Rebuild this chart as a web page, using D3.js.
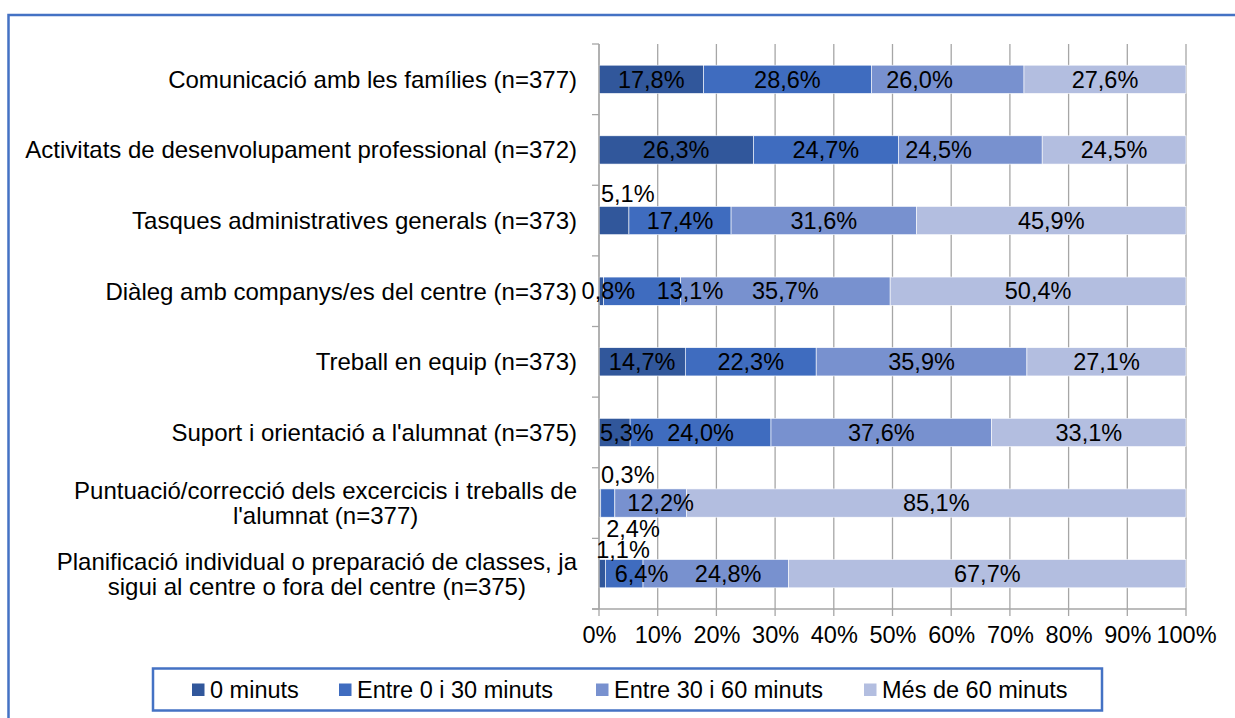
<!DOCTYPE html>
<html>
<head>
<meta charset="utf-8">
<script src="https://cdn.jsdelivr.net/npm/d3@7"></script>
<style>
  html, body { margin: 0; padding: 0; background: #fff; }
  svg { display: block; font-family: "Liberation Sans", Arial, sans-serif; }
</style>
</head>
<body>
<svg id="chart" width="1235" height="718"></svg>
<script>
// ---------------- DATA ----------------
const categories = [
  "Comunicació amb les famílies (n=377)",
  "Activitats de desenvolupament professional (n=372)",
  "Tasques administratives generals (n=373)",
  "Diàleg amb companys/es del centre (n=373)",
  "Treball en equip (n=373)",
  "Suport i orientació a l'alumnat (n=375)",
  "Puntuació/correcció dels excercicis i treballs de l'alumnat (n=377)",
  "Planificació individual o preparació de classes, ja sigui al centre o fora del centre (n=375)"
];
const categoryLines = [
  ["Comunicació amb les famílies (n=377)"],
  ["Activitats de desenvolupament professional (n=372)"],
  ["Tasques administratives generals (n=373)"],
  ["Diàleg amb companys/es del centre (n=373)"],
  ["Treball en equip (n=373)"],
  ["Suport i orientació a l'alumnat (n=375)"],
  ["Puntuació/correcció dels excercicis i treballs de", "l'alumnat (n=377)"],
  ["Planificació individual o preparació de classes, ja", "sigui al centre o fora del centre (n=375)"]
];
const seriesNames = ["0 minuts", "Entre 0 i 30 minuts", "Entre 30 i 60 minuts", "Més de 60 minuts"];
const zeroMin      = [17.8, 26.3, 5.1, 0.8, 14.7, 5.3, 0.3, 1.1];
const upTo30       = [28.6, 24.7, 17.4, 13.1, 22.3, 24.0, 2.4, 6.4];
const from30to60   = [26.0, 24.5, 31.6, 35.7, 35.9, 37.6, 12.2, 24.8];
const over60       = [27.6, 24.5, 45.9, 50.4, 27.1, 33.1, 85.1, 67.7];
const tickValues   = [0, 10, 20, 30, 40, 50, 60, 70, 80, 90, 100];

// ---------------- STYLE ----------------
const colors = ["#31579B", "#3F6CBF", "#7891CF", "#B3BEE0"];
const FONT = 23.5;
const CAT_FONT = 24;
// label nudges (dx in % units from segment centre, dy in px), as placed in the original
const labelNudges = {
  "0-2": {dx: -4.8, dy: 0},
  "1-2": {dx: -5.4, dy: 0},
  "2-0": {dx: 2.35, dy: -27},
  "3-0": {dx: 1.2, dy: 0},
  "3-1": {dx: 8.15, dy: 0},
  "5-0": {dx: 2.1, dy: 0},
  "6-0": {dx: 4.75, dy: -28},
  "6-1": {dx: 4.3, dy: 26},
  "6-2": {dx: 1.7, dy: 0},
  "7-0": {dx: 3.55, dy: -24},
  "7-1": {dx: 2.95, dy: 0},
  "7-2": {dx: 2.1, dy: 0}
};

// ---------------- BUILD ----------------
const seriesValues = [zeroMin, upTo30, from30to60, over60];
const rows = categories.map((c, i) => {
  const r = {category: c};
  seriesNames.forEach((s, j) => r[s] = seriesValues[j][i]);
  return r;
});
const stacked = d3.stack().keys(seriesNames)(rows);

const svg = d3.select("#chart");
const plot = {left: 599, right: 1186, top: 44, bottom: 609};

const x = d3.scaleLinear().domain([0, 100]).range([plot.left, plot.right]);
const y = d3.scaleBand().domain(categories).range([plot.top, plot.bottom])
  .paddingInner(0.6).paddingOuter(0.3);

const loc = d3.formatLocale({decimal: ",", thousands: ".", grouping: [3], currency: ["", "€"]});
const fmt = loc.format(".1f");

// outer frame
svg.append("path")
  .attr("d", `M8.5,718 L8.5,15 L1235,15`)
  .attr("fill", "none").attr("stroke", "#4472C4").attr("stroke-width", 2.5);

// gridlines
svg.append("g").selectAll("line").data(tickValues).join("line")
  .attr("x1", d => x(d)).attr("x2", d => x(d))
  .attr("y1", plot.top).attr("y2", plot.bottom + 7)
  .attr("stroke", "#A6A6A6").attr("stroke-width", 1.3);

// bars
const g = svg.append("g");
stacked.forEach((s, j) => {
  g.append("g").selectAll("rect").data(s).join("rect")
    .attr("x", d => x(d[0]))
    .attr("width", d => x(d[1]) - x(d[0]))
    .attr("y", d => y(d.data.category))
    .attr("height", y.bandwidth())
    .attr("fill", colors[j])
    .attr("stroke", "#fff").attr("stroke-width", 0.6);
});

// left axis line and ticks at band boundaries
const bounds = categories.map(c => y(c) - y.step() * y.paddingInner() / 2);
bounds.push(plot.bottom);
svg.append("line").attr("x1", plot.left).attr("x2", plot.left)
  .attr("y1", plot.top).attr("y2", plot.bottom)
  .attr("stroke", "#A6A6A6").attr("stroke-width", 1.3);
svg.append("g").selectAll("line").data(bounds).join("line")
  .attr("x1", plot.left - 7).attr("x2", plot.left)
  .attr("y1", d => d).attr("y2", d => d)
  .attr("stroke", "#A6A6A6").attr("stroke-width", 1.3);

// bottom axis
svg.append("line").attr("x1", plot.left - 7).attr("x2", plot.right)
  .attr("y1", plot.bottom).attr("y2", plot.bottom)
  .attr("stroke", "#A6A6A6").attr("stroke-width", 1.3);
const xAxis = svg.append("g").attr("transform", `translate(0,${plot.bottom})`)
  .call(d3.axisBottom(x).tickValues(tickValues).tickSize(0).tickPadding(17).tickFormat(d => d + "%"));
xAxis.select(".domain").remove();
xAxis.selectAll("text").attr("font-size", FONT).attr("fill", "#000")
  .attr("font-family", "'Liberation Sans', Arial, sans-serif");

// category labels
const catG = svg.append("g");
categoryLines.forEach((lines, i) => {
  const cy = y(categories[i]) + y.bandwidth() / 2;
  const t = catG.append("text")
    .attr("font-size", CAT_FONT).attr("fill", "#000");
  const lh = 25;
  lines.forEach((ln, k) => {
    t.append("tspan").text(ln)
      .attr("y", cy + (k - (lines.length - 1) / 2) * lh)
      .attr("dy", "0.35em");
  });
  const tspans = t.selectAll("tspan").nodes();
  const widths = tspans.map(n => n.getComputedTextLength());
  const maxW = d3.max(widths);
  const right = 577;
  tspans.forEach(n => {
    d3.select(n).attr("x", right - maxW / 2).attr("text-anchor", "middle");
  });
});

// data labels
const lblG = svg.append("g");
stacked.forEach((s, j) => {
  s.forEach((d, i) => {
    const nudge = labelNudges[`${i}-${j}`] || {dx: 0, dy: 0};
    const cx = x((d[0] + d[1]) / 2 + nudge.dx);
    const cy = y(d.data.category) + y.bandwidth() / 2 + nudge.dy;
    lblG.append("text")
      .attr("x", cx).attr("y", cy).attr("dy", "0.35em")
      .attr("text-anchor", "middle")
      .attr("font-size", FONT).attr("fill", "#000")
      .text(fmt(d[1] - d[0]) + "%");
  });
});

// legend
const leg = svg.append("g");
leg.append("rect").attr("x", 153).attr("y", 668.5).attr("width", 949).attr("height", 42)
  .attr("fill", "#fff").attr("stroke", "#4472C4").attr("stroke-width", 2.5);
const legX = [192, 339, 596, 864];
seriesNames.forEach((s, j) => {
  leg.append("rect").attr("x", legX[j]).attr("y", 683.5).attr("width", 12.5).attr("height", 12.5)
    .attr("fill", colors[j]);
  leg.append("text").attr("x", legX[j] + 18).attr("y", 690).attr("dy", "0.35em")
    .attr("font-size", FONT).attr("fill", "#000").text(s);
});
</script>
</body>
</html>
